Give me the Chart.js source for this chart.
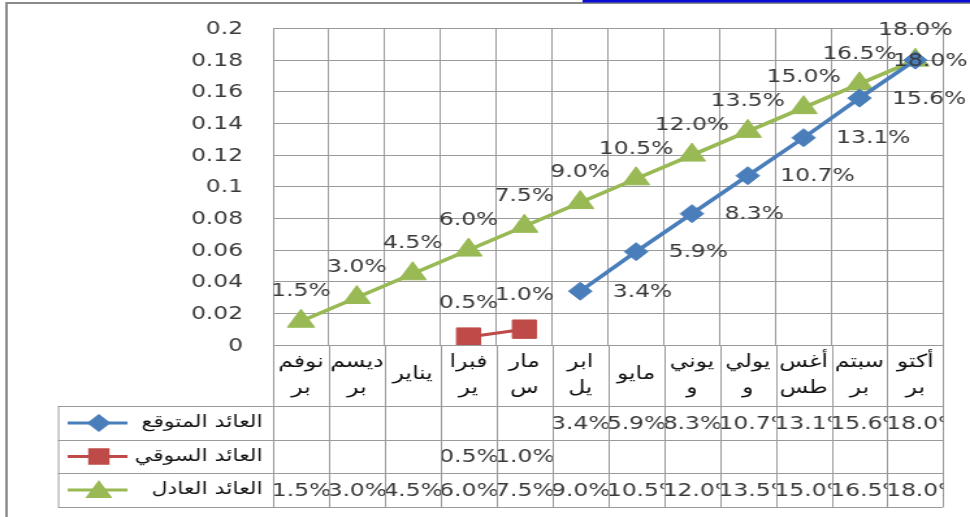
<!DOCTYPE html>
<html>
<head>
<meta charset="utf-8">
<script src="https://cdn.jsdelivr.net/npm/chart.js@4"></script>
<style>
  html, body { margin: 0; padding: 0; background: #fff; overflow: hidden; }
  #wrap { width: 746px; height: 517px; transform: scaleX(1.3003); transform-origin: 0 0; }
</style>
</head>
<body>
<div id="wrap"><canvas id="chart" width="746" height="517"></canvas></div>
<script>
// categorias (nombres de mes partidos en dos lineas como en la tabla)
const months = [
  ['نوفم', 'بر'], ['ديسم', 'بر'], ['يناير'], ['فبرا', 'ير'], ['مار', 'س'], ['ابر', 'يل'],
  ['مايو'], ['يوني', 'و'], ['يولي', 'و'], ['أغس', 'طس'], ['سبتم', 'بر'], ['أكتو', 'بر']
];
const seriesNames = ['العائد المتوقع', 'العائد السوقي', 'العائد العادل'];
const expectedReturn = [null, null, null, null, null, 0.034, 0.059, 0.083, 0.107, 0.131, 0.156, 0.180];
const marketReturn = [null, null, null, 0.005, 0.010, null, null, null, null, null, null, null];
const fairReturn = [0.015, 0.030, 0.045, 0.060, 0.075, 0.090, 0.105, 0.120, 0.135, 0.150, 0.165, 0.180];
const yTicks = [0, 0.02, 0.04, 0.06, 0.08, 0.1, 0.12, 0.14, 0.16, 0.18, 0.2];

const colors = ['#4a7ebb', '#be4b48', '#98b954'];
const FONT = '"DejaVu Sans", sans-serif';
const TEXT = '#3a3a3a';
const GRID = '#9a9a9a';

function pct(v) {
  return (v * 100).toFixed(1) + '%';
}

// Etiquetas del eje, de los puntos y tabla inferior
const tablePlugin = {
  id: 'tablePlugin',
  beforeDraw(chart) {
    const ctx = chart.ctx;
    ctx.save();
    ctx.fillStyle = '#fff';
    ctx.fillRect(0, 0, chart.width, chart.height);
    ctx.restore();
  },
  afterDatasetsDraw(chart) {
    const ctx = chart.ctx;
    const xs = chart.scales.x;
    const ys = chart.scales.y;
    const area = chart.chartArea;
    const colW = (area.right - area.left) / months.length;

    ctx.save();
    // eje y
    ctx.font = '18px ' + FONT;
    ctx.fillStyle = TEXT;
    ctx.textAlign = 'right';
    ctx.textBaseline = 'middle';
    yTicks.forEach(v => {
      ctx.fillText(String(parseFloat(v.toFixed(2))), area.left - 23, ys.getPixelForValue(v) + 1);
    });

    // etiquetas de los puntos
    chart.data.datasets.forEach((ds, i) => {
      const meta = chart.getDatasetMeta(i);
      meta.data.forEach((pt, j) => {
        const v = ds.data[j];
        if (v === null) return;
        const txt = pct(v);
        if (i === 0) {
          ctx.textAlign = 'left';
          const w = ctx.measureText(txt).width;
          const x = Math.min(pt.x + 25, chart.width - 2 - w);
          ctx.fillText(txt, x, pt.y + 1);
        } else if (i === 1) {
          ctx.textAlign = 'center';
          ctx.fillText(txt, pt.x, pt.y - 34);
        } else {
          ctx.textAlign = 'center';
          ctx.fillText(txt, pt.x, pt.y - 30);
        }
      });
    });
    ctx.restore();

    // tabla
    const rowTop = area.bottom;
    const rows = [406, 440, 473, 507];
    const legendLeft = 44.6;
    ctx.save();
    ctx.strokeStyle = GRID;
    ctx.lineWidth = 1;
    ctx.beginPath();
    for (let k = 0; k <= months.length; k++) {
      const x = Math.round(area.left + k * colW) + 0.5;
      ctx.moveTo(x, rowTop);
      ctx.lineTo(x, rows[3]);
    }
    rows.forEach(y => {
      ctx.moveTo(legendLeft, y + 0.5);
      ctx.lineTo(area.right, y + 0.5);
    });
    ctx.moveTo(legendLeft + 0.5, rows[0]);
    ctx.lineTo(legendLeft + 0.5, rows[3]);
    ctx.stroke();

    // meses
    ctx.fillStyle = '#111';
    ctx.font = '18px ' + FONT;
    ctx.textAlign = 'center';
    ctx.textBaseline = 'middle';
    months.forEach((m, j) => {
      const cx = xs.getPixelForValue(j);
      if (m.length === 1) {
        ctx.fillText(m[0], cx, 374);
      } else {
        ctx.fillText(m[0], cx, 362);
        ctx.fillText(m[1], cx, 388);
      }
    });

    // valores
    ctx.font = '18px ' + FONT;
    ctx.fillStyle = TEXT;
    ctx.textAlign = 'left';
    chart.data.datasets.forEach((ds, i) => {
      const yc = (rows[i] + rows[i + 1]) / 2 + 1;
      ds.data.forEach((v, j) => {
        if (v === null) return;
        const left = area.left + j * colW;
        ctx.save();
        ctx.beginPath();
        ctx.rect(left + 1, rows[i], colW - 1, rows[i + 1] - rows[i]);
        ctx.clip();
        ctx.fillText(pct(v), left - 1, yc);
        ctx.restore();
      });
    });

    // leyenda dentro de la tabla
    chart.data.datasets.forEach((ds, i) => {
      const yc = (rows[i] + rows[i + 1]) / 2;
      ctx.strokeStyle = colors[i];
      ctx.lineWidth = 3;
      ctx.beginPath();
      ctx.moveTo(52, yc);
      ctx.lineTo(98, yc);
      ctx.stroke();
      Chart.helpers.drawPoint(ctx, {
        pointStyle: ds.pointStyle,
        radius: [7, 9.5, 9][i],
        borderWidth: 1
      }, 76, yc + (i === 2 ? 2 : 0));
      ctx.fillStyle = colors[i];
      ctx.fill();
      ctx.fillStyle = '#111';
      ctx.font = '17px ' + FONT;
      ctx.textAlign = 'right';
      ctx.fillText(seriesNames[i], 202, yc);
    });

    // marco exterior
    ctx.strokeStyle = '#8a8a8a';
    ctx.lineWidth = 2;
    ctx.beginPath();
    ctx.moveTo(5, chart.height);
    ctx.lineTo(5, 3);
    ctx.lineTo(chart.width, 3);
    ctx.stroke();
    ctx.fillStyle = '#0b0bd6';
    ctx.fillRect(448, 0, chart.width - 448, 2.5);
    ctx.restore();
  }
};

const chart = new Chart(document.getElementById('chart'), {
  type: 'line',
  data: {
    labels: months,
    datasets: [
      {
        label: seriesNames[0],
        data: expectedReturn,
        borderColor: colors[0],
        backgroundColor: colors[0],
        borderWidth: 3.5,
        pointStyle: 'rectRot',
        pointRadius: 9,
        pointBorderWidth: 1
      },
      {
        label: seriesNames[1],
        data: marketReturn,
        borderColor: colors[1],
        backgroundColor: colors[1],
        borderWidth: 3,
        pointStyle: 'rect',
        pointRadius: 13,
        pointBorderWidth: 1
      },
      {
        label: seriesNames[2],
        data: fairReturn,
        borderColor: colors[2],
        backgroundColor: colors[2],
        borderWidth: 3.5,
        pointStyle: 'triangle',
        pointRadius: 12,
        pointBorderWidth: 1
      }
    ]
  },
  options: {
    responsive: false,
    animation: false,
    devicePixelRatio: 1,
    layout: { padding: { left: 0, right: 20.6, top: 28.5, bottom: 172 } },
    plugins: { legend: { display: false }, tooltip: { enabled: false } },
    scales: {
      x: {
        type: 'category',
        offset: true,
        ticks: { display: false },
        grid: { offset: true, color: GRID, lineWidth: 1, drawTicks: false },
        border: { color: GRID }
      },
      y: {
        min: 0,
        max: 0.2,
        afterFit(scale) { scale.width = 210; },
        afterBuildTicks(scale) { scale.ticks = yTicks.map(v => ({ value: v })); },
        ticks: { display: false },
        grid: { color: GRID, lineWidth: 1, drawTicks: false },
        border: { color: GRID }
      }
    }
  },
  plugins: [tablePlugin]
});
</script>
</body>
</html>
